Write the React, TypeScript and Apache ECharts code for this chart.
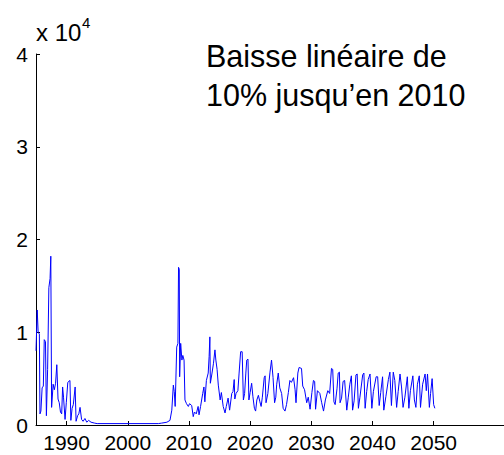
import React, { useEffect, useRef } from "react";
import * as echarts from "echarts";

const years: number[] = [
  1985.0, 1985.2, 1985.35, 1985.55, 1985.65, 1985.8, 1986.0, 1986.2, 1986.35, 1986.55,
  1986.7, 1986.9, 1987.1, 1987.3, 1987.42, 1987.55, 1987.8, 1988.0, 1988.2, 1988.4,
  1988.6, 1988.8, 1989.0, 1989.2, 1989.35, 1989.5, 1989.75, 1989.95, 1990.2, 1990.55,
  1990.7, 1990.9, 1991.1, 1991.4, 1991.55, 1991.8, 1992.0, 1992.2, 1992.45, 1992.7,
  1993.0, 1993.3, 1993.6, 1994.0, 1994.6, 1995.0, 2005.0, 2005.5, 2006.4, 2006.9,
  2007.2, 2007.45, 2007.6, 2007.75, 2008.0, 2008.2, 2008.3, 2008.42, 2008.48, 2008.65,
  2008.85, 2009.0, 2009.2, 2009.35, 2009.6, 2009.9, 2010.1, 2010.45, 2010.7, 2010.9,
  2011.2, 2011.5, 2011.65, 2011.9, 2012.25, 2012.45, 2012.6, 2012.85, 2013.15, 2013.3,
  2013.42, 2013.5, 2013.75, 2014.0, 2014.25, 2014.4, 2014.6, 2014.8, 2015.1, 2015.3,
  2015.6, 2015.9, 2016.1, 2016.4, 2016.65, 2017.0, 2017.2, 2017.4, 2017.5, 2017.7,
  2018.0, 2018.2, 2018.45, 2018.7, 2018.9, 2019.1, 2019.3, 2019.45, 2019.65, 2019.8,
  2020.0, 2020.25, 2020.45, 2020.7, 2020.9, 2021.1, 2021.35, 2021.6, 2021.8, 2022.0,
  2022.3, 2022.45, 2022.6, 2022.9, 2023.25, 2023.5, 2023.75, 2024.0, 2024.2, 2024.35,
  2024.6, 2024.85, 2025.15, 2025.4, 2025.7, 2025.95, 2026.25, 2026.5, 2026.75, 2027.1,
  2027.35, 2027.5, 2027.8, 2028.0, 2028.4, 2028.6, 2028.9, 2029.25, 2029.5, 2029.8,
  2030.1, 2030.35, 2030.55, 2030.7, 2031.0, 2031.4, 2031.7, 2032.0, 2032.3, 2032.7,
  2033.0, 2033.3, 2033.5, 2033.7, 2033.9, 2034.2, 2034.4, 2034.6, 2034.7, 2034.95,
  2035.2, 2035.45, 2035.8, 2036.05, 2036.3, 2036.55, 2036.75, 2037.0, 2037.3, 2037.5,
  2037.7, 2037.95, 2038.4, 2038.6, 2038.8, 2039.05, 2039.3, 2039.6, 2039.9, 2040.15,
  2040.6, 2040.85, 2041.1, 2041.35, 2041.65, 2041.85, 2042.2, 2042.6, 2042.85, 2043.1,
  2043.4, 2043.65, 2043.95, 2044.2, 2044.5, 2044.75, 2045.0, 2045.3, 2045.7, 2045.95,
  2046.2, 2046.6, 2046.85, 2047.1, 2047.35, 2047.65, 2047.85, 2048.2, 2048.6, 2048.8,
  2049.0, 2049.3, 2049.5, 2049.75, 2050.0, 2050.2,
];

// values in units of 10^4
const values: number[] = [
  0.8, 1.24, 1.0, 0.98, 0.12, 0.15, 0.4, 0.42, 0.92, 0.9,
  0.1, 0.6, 1.48, 1.58, 1.82, 0.19, 0.44, 0.38, 0.45, 0.65,
  0.28, 0.24, 0.14, 0.12, 0.41, 0.3, 0.06, 0.24, 0.46, 0.48,
  0.05, 0.18, 0.22, 0.41, 0.04, 0.1, 0.12, 0.19, 0.06, 0.04,
  0.07, 0.03, 0.05, 0.03, 0.02, 0.015, 0.015, 0.02, 0.03, 0.05,
  0.16, 0.43, 0.36, 0.2, 0.84, 0.88, 1.7, 1.68, 0.52, 0.88,
  0.7, 0.75, 0.7, 0.27, 0.23, 0.2, 0.23, 0.21, 0.09, 0.14,
  0.12, 0.2, 0.11, 0.2, 0.34, 0.41, 0.25, 0.48, 0.56, 0.74,
  0.95, 0.45, 0.55, 0.66, 0.81, 0.7, 0.6, 0.43, 0.27, 0.35,
  0.2, 0.13, 0.2, 0.29, 0.16, 0.34, 0.36, 0.49, 0.28, 0.34,
  0.37, 0.56, 0.79, 0.79, 0.27, 0.34, 0.56, 0.7, 0.71, 0.27,
  0.35, 0.45, 0.31, 0.18, 0.15, 0.27, 0.32, 0.25, 0.2, 0.3,
  0.51, 0.53, 0.24, 0.34, 0.57, 0.7, 0.51, 0.24, 0.3, 0.44,
  0.56, 0.4, 0.34, 0.18, 0.15, 0.22, 0.35, 0.48, 0.46, 0.51,
  0.38, 0.24, 0.56, 0.62, 0.61, 0.42, 0.38, 0.24, 0.3, 0.17,
  0.35, 0.48, 0.47, 0.17, 0.37, 0.34, 0.24, 0.15, 0.27, 0.37,
  0.34, 0.61, 0.6, 0.25, 0.22, 0.39, 0.56, 0.57, 0.24, 0.29,
  0.47, 0.48, 0.16, 0.3, 0.44, 0.53, 0.16, 0.26, 0.54, 0.55,
  0.18, 0.3, 0.54, 0.56, 0.18, 0.36, 0.49, 0.55, 0.18, 0.36,
  0.52, 0.52, 0.21, 0.35, 0.52, 0.16, 0.31, 0.49, 0.57, 0.21,
  0.57, 0.48, 0.19, 0.36, 0.55, 0.41, 0.19, 0.3, 0.52, 0.18,
  0.37, 0.53, 0.27, 0.19, 0.44, 0.53, 0.19, 0.44, 0.55, 0.37,
  0.55, 0.19, 0.34, 0.5, 0.22, 0.18,
];

const xTickValues: number[] = [1990, 2000, 2010, 2020, 2030, 2040, 2050];
const titleLines: string[] = ["Baisse linéaire de", "10% jusqu’en 2010"];

const FONT = "'Liberation Sans', Arial, sans-serif";

export default function App() {
  const ref = useRef<HTMLDivElement>(null);
  useEffect(() => {
    if (!ref.current) return;
    const chart = echarts.init(ref.current, null, { renderer: "svg" });
    const data = years.map((y, i) => [y, values[i]]);
    chart.setOption({
      animation: false,
      backgroundColor: "#ffffff",
      grid: { left: 36, right: 0, top: 54, bottom: 30, containLabel: false },
      xAxis: {
        type: "value",
        min: 1985,
        max: 2061.5,
        splitLine: { show: false },
        axisLine: { show: true, lineStyle: { color: "#000", width: 1 } },
        axisTick: { show: true, inside: true, length: 4, customValues: xTickValues, lineStyle: { color: "#000" } },
        axisLabel: {
          customValues: xTickValues,
          formatter: (v: number) => String(Math.round(v)),
          color: "#000",
          fontFamily: FONT,
          fontSize: 21,
          margin: 7,
        },
      },
      yAxis: {
        type: "value",
        min: 0,
        max: 4,
        interval: 1,
        splitLine: { show: false },
        axisLine: { show: true, lineStyle: { color: "#000", width: 1 } },
        axisTick: { show: true, inside: true, length: 4, lineStyle: { color: "#000" } },
        axisLabel: { color: "#000", fontFamily: FONT, fontSize: 21, margin: 8 },
      },
      graphic: [
        {
          type: "text",
          x: 36,
          y: 32.5,
          style: {
            text: "x 10",
            fontFamily: FONT,
            fontSize: 24,
            fill: "#000",
            verticalAlign: "middle",
          },
        },
        {
          type: "text",
          x: 82,
          y: 22,
          style: {
            text: "4",
            fontFamily: FONT,
            fontSize: 15,
            fill: "#000",
            verticalAlign: "middle",
          },
        },
        {
          type: "text",
          x: 206,
          y: 56,
          style: {
            text: titleLines[0],
            fontFamily: FONT,
            fontSize: 30.5,
            fill: "#000",
            verticalAlign: "middle",
          },
        },
        {
          type: "text",
          x: 206,
          y: 94.5,
          style: {
            text: titleLines[1],
            fontFamily: FONT,
            fontSize: 30.5,
            fill: "#000",
            verticalAlign: "middle",
          },
        },
      ],
      series: [
        {
          type: "line",
          data,
          showSymbol: false,
          symbol: "none",
          lineStyle: { color: "#0000ff", width: 1 },
          clip: true,
        },
      ],
    });
    return () => chart.dispose();
  }, []);
  return (
    <div
      ref={ref}
      style={{ position: "fixed", left: 0, top: 0, width: 504, height: 455, background: "#fff" }}
    />
  );
}
